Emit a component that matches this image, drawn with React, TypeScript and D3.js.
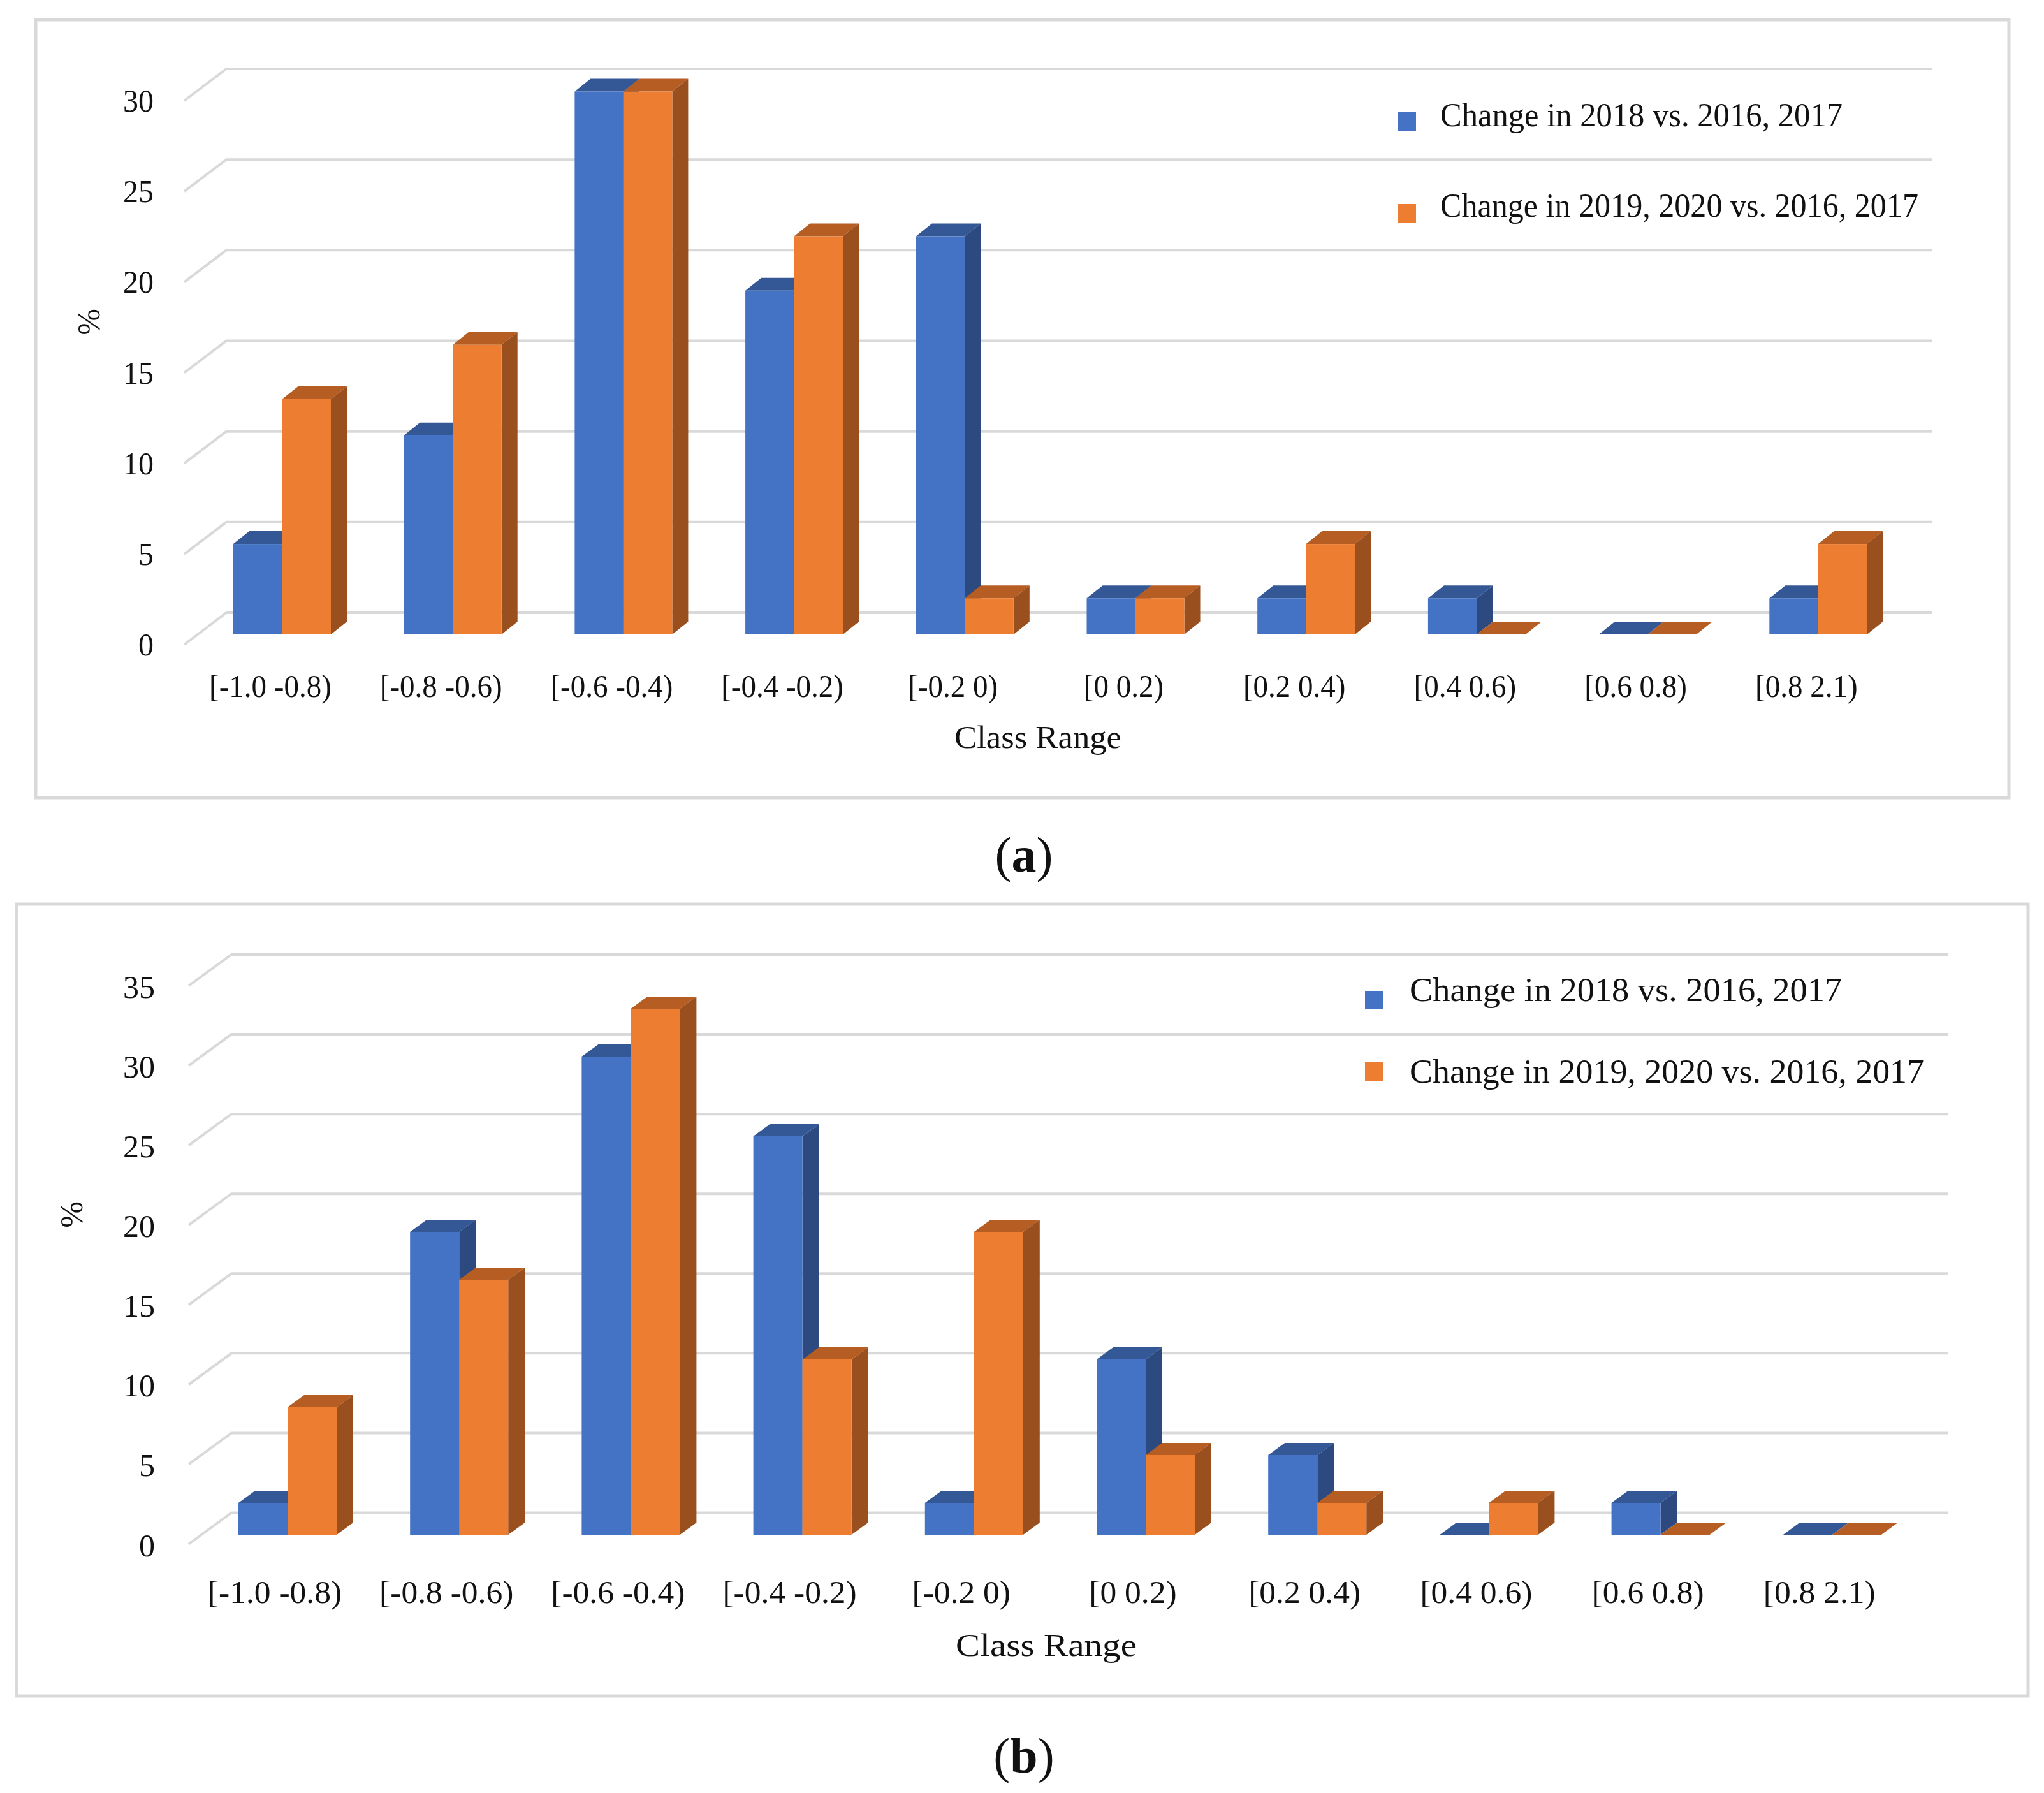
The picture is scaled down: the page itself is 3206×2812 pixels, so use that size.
import { useEffect, useRef } from "react";
import * as d3 from "d3";

const categories = ["[-1.0 -0.8)", "[-0.8 -0.6)", "[-0.6 -0.4)", "[-0.4 -0.2)", "[-0.2 0)", "[0 0.2)", "[0.2 0.4)", "[0.4 0.6)", "[0.6 0.8)", "[0.8 2.1)"];
const seriesNames = ["Change in 2018 vs. 2016, 2017", "Change in 2019, 2020 vs. 2016, 2017"];

const topBlue = [5, 11, 30, 19, 22, 2, 2, 2, 0, 2];
const topOrange = [13, 16, 30, 22, 2, 2, 5, 0, 0, 5];
const bottomBlue = [2, 19, 30, 25, 2, 11, 5, 0, 2, 0];
const bottomOrange = [8, 16, 33, 11, 19, 5, 2, 2, 0, 0];

const topTicks = [0, 5, 10, 15, 20, 25, 30];
const bottomTicks = [0, 5, 10, 15, 20, 25, 30, 35];

const FRONT = ["#4472C4", "#ED7D31"];
const ROOF = ["#345796", "#B55D22"];
const SIDE = ["#2C4A80", "#9A4F1E"];
const GRID = "#D9D9D9";
const FONT = "'Liberation Serif', serif";

function drawPanel(svg: d3.Selection<SVGSVGElement, unknown, null, undefined>, p: any) {
  const g = svg.append("g");

  g.append("rect")
    .attr("x", p.frame[0])
    .attr("y", p.frame[1])
    .attr("width", p.frame[2] - p.frame[0])
    .attr("height", p.frame[3] - p.frame[1])
    .attr("fill", "#fff")
    .attr("stroke", GRID)
    .attr("stroke-width", 5);

  // back wall grid
  const yBack = d3.scaleLinear().domain([0, p.max]).range(p.backRange);
  p.ticks.forEach((t: number) => {
    g.append("path")
      .attr("d", `M${p.wallX - p.wallDx},${yBack(t) + p.wallDy}L${p.wallX},${yBack(t)}H${p.wallEnd}`)
      .attr("fill", "none")
      .attr("stroke", GRID)
      .attr("stroke-width", 4);
    g.append("text")
      .attr("class", "fit")
      .attr("data-stretch", p.tickStretch)
      .attr("x", p.tickRight)
      .attr("y", yBack(t) + p.tickOffset)
      .attr("text-anchor", "end")
      .attr("font-size", 50)
      .text(t);
  });

  // bars sit between the floor front and the back wall
  const y = d3.scaleLinear().domain([0, p.max]).range(p.barRange);
  const x = d3
    .scaleBand<string>()
    .domain(categories)
    .range([p.barX, p.barX + p.step * categories.length]);
  const xs = d3
    .scaleBand<string>()
    .domain(seriesNames)
    .range([0, p.barW * 2]);
  const w = xs.bandwidth();

  categories.forEach((c, i) => {
    p.series.forEach((vals: number[], s: number) => {
      const x0 = x(c)! + xs(seriesNames[s])!;
      const y0 = y(0);
      const yt = y(vals[i]);
      const bar = g.append("g");
      bar.append("path")
        .attr("d", `M${x0},${yt}l${p.dx},${-p.dy}h${w}l${-p.dx},${p.dy}Z`)
        .attr("fill", ROOF[s]);
      if (vals[i] > 0) {
        bar.append("path")
          .attr("d", `M${x0 + w},${yt}l${p.dx},${-p.dy}V${y0 - p.dy}l${-p.dx},${p.dy}Z`)
          .attr("fill", SIDE[s]);
        bar.append("rect")
          .attr("x", x0)
          .attr("y", yt)
          .attr("width", w)
          .attr("height", y0 - yt)
          .attr("fill", FRONT[s]);
      }
    });
    g.append("text")
      .attr("class", "fit")
      .attr("data-stretch", p.catStretch)
      .attr("x", x(c)! + p.labelDx)
      .attr("y", p.labelY)
      .attr("text-anchor", "middle")
      .attr("font-size", 50)
      .text(c);
  });

  g.append("text")
    .attr("class", "fit")
    .attr("data-width", p.titleWidth)
    .attr("x", p.titleX)
    .attr("y", p.titleY)
    .attr("text-anchor", "middle")
    .attr("font-size", 50)
    .text("Class Range");

  g.append("text")
    .attr("transform", `translate(${p.unit[0]},${p.unit[1]}) rotate(-90)`)
    .attr("text-anchor", "middle")
    .attr("dominant-baseline", "central")
    .attr("font-size", 50)
    .text("%");

  seriesNames.forEach((name, s) => {
    g.append("rect")
      .attr("x", p.legendX)
      .attr("y", p.legendY[s])
      .attr("width", 29)
      .attr("height", 29)
      .attr("fill", FRONT[s]);
    g.append("text")
      .attr("class", "fit")
      .attr("data-width", p.legendWidth[s])
      .attr("x", p.legendTextX)
      .attr("y", p.legendBase[s])
      .attr("font-size", 52)
      .text(name);
  });

  const cap = g.append("text")
    .attr("x", 1606)
    .attr("y", p.capY)
    .attr("text-anchor", "middle")
    .attr("font-size", 78);
  cap.append("tspan").text("(");
  cap.append("tspan").attr("font-weight", "bold").text(p.cap);
  cap.append("tspan").text(")");
}

export default function App() {
  const ref = useRef<SVGSVGElement>(null);

  useEffect(() => {
    if (!ref.current) return;
    const svg = d3.select(ref.current);
    svg.selectAll("*").remove();
    svg.attr("font-family", FONT).attr("fill", "#111");

    drawPanel(svg, {
      frame: [56, 31, 3151, 1251],
      max: 30,
      ticks: topTicks,
      series: [topBlue, topOrange],
      backRange: [961, 108],
      wallX: 355,
      wallDx: 66,
      wallDy: 50,
      wallEnd: 3031,
      tickRight: 241,
      tickOffset: 67,
      tickStretch: 0.96,
      barRange: [995, 143.5],
      barX: 366,
      barW: 76.5,
      step: 267.7,
      dx: 25,
      dy: 20,
      labelDx: 58,
      labelY: 1093,
      catStretch: 0.94,
      titleX: 1628,
      titleY: 1173,
      titleWidth: 262,
      unit: [139, 505],
      legendX: 2192,
      legendY: [176, 320],
      legendTextX: 2259,
      legendBase: [198, 340],
      legendWidth: [631, 750],
      cap: "a",
      capY: 1367,
    });

    drawPanel(svg, {
      frame: [26, 1418, 3181, 2660],
      max: 35,
      ticks: bottomTicks,
      series: [bottomBlue, bottomOrange],
      backRange: [2372.5, 1497],
      wallX: 363,
      wallDx: 67,
      wallDy: 49,
      wallEnd: 3056,
      tickRight: 243,
      tickOffset: 68,
      tickStretch: 1,
      barRange: [2407, 1532],
      barX: 374,
      barW: 77,
      step: 269.2,
      dx: 26,
      dy: 19,
      labelDx: 57,
      labelY: 2514,
      catStretch: 1.03,
      titleX: 1641,
      titleY: 2597,
      titleWidth: 284,
      unit: [112, 1905],
      legendX: 2141,
      legendY: [1554, 1666],
      legendTextX: 2211,
      legendBase: [1570, 1698],
      legendWidth: [678, 807],
      cap: "b",
      capY: 2780,
    });

    // Palatino is not installed, so squeeze the serif to the original text widths
    svg.selectAll<SVGTextElement, unknown>("text.fit").each(function () {
      const target = this.getAttribute("data-width");
      const stretch = this.getAttribute("data-stretch");
      const len = target ? +target : this.getComputedTextLength() * +(stretch ?? 1);
      d3.select(this).attr("textLength", len).attr("lengthAdjust", "spacingAndGlyphs");
    });
  }, []);

  return (
    <svg
      ref={ref}
      width={3206}
      height={2812}
      style={{ position: "absolute", left: 0, top: 0, background: "#fff" }}
      role="img"
      aria-label="Two 3D column charts of class range percentages"
    />
  );
}
